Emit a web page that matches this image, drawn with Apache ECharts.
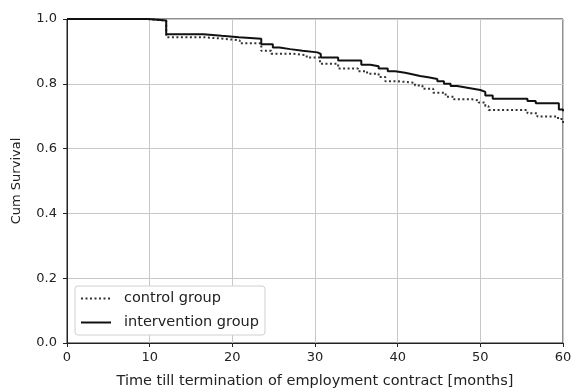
<!DOCTYPE html>
<html><head><meta charset="utf-8">
<script src="https://cdn.jsdelivr.net/npm/echarts@6/dist/echarts.min.js"></script>
<style>html,body{margin:0;padding:0;background:#fff}#c{width:577px;height:388px}</style>
</head><body><div id="c"></div>
<script>
const interventionTime = [0, 9.8, 12, 16.5, 18.7, 20.8, 23.5, 24.9, 25.7, 27, 28.5, 30.3, 30.7, 32.8, 35.6, 36.7, 37.7, 38.8, 39.7, 40.9, 41.9, 42.7, 43.7, 44.8, 45.6, 46.4, 47.2, 48.6, 50, 50.6, 51.5, 55.7, 56.7, 59.5, 60];
const interventionSurv = [1.0, 0.995, 0.953, 0.948, 0.944, 0.939, 0.922, 0.912, 0.907, 0.902, 0.897, 0.892, 0.881, 0.872, 0.859, 0.854, 0.847, 0.839, 0.834, 0.829, 0.824, 0.82, 0.815, 0.808, 0.80, 0.793, 0.787, 0.781, 0.775, 0.764, 0.754, 0.747, 0.74, 0.721, 0.715];
const controlTime = [0, 9.8, 12, 16.4, 19, 20.9, 23.5, 24.7, 27.3, 29, 30.6, 32.8, 35.2, 36.3, 37.7, 38.5, 40, 42.1, 43, 44.3, 45.8, 46.8, 49, 49.8, 50.6, 51, 55.7, 56.9, 59.4, 60];
const controlSurv = [1.0, 0.995, 0.944, 0.939, 0.934, 0.925, 0.902, 0.893, 0.888, 0.881, 0.862, 0.847, 0.839, 0.831, 0.821, 0.808, 0.803, 0.795, 0.785, 0.772, 0.76, 0.752, 0.749, 0.742, 0.731, 0.719, 0.709, 0.699, 0.691, 0.675];
const xTicks = [0, 10, 20, 30, 40, 50, 60];
const yTicks = [0.0, 0.2, 0.4, 0.6, 0.8, 1.0];

const zip = (a, b) => a.map((v, i) => [v, b[i]]);
const font = 'DejaVu Sans';
const txt = '#222';
const chart = echarts.init(document.getElementById('c'), null, {renderer: 'canvas'});
chart.setOption({
  animation: false,
  backgroundColor: '#fff',
  textStyle: {fontFamily: font},
  grid: {left: 67, right: 14, top: 19, bottom: 45, show: true, borderColor: '#222', borderWidth: 1,
         containLabel: false, outerBoundsMode: 'none'},
  legend: {
    orient: 'vertical', left: 75, top: 286,
    itemWidth: 30, itemHeight: 12, itemGap: 9,
    padding: [5, 6, 5, 5],
    borderColor: '#d0d0d0', borderWidth: 1, borderRadius: 3, backgroundColor: '#fff',
    itemStyle: {opacity: 0},
    textStyle: {fontFamily: font, fontSize: 14.5, color: txt, padding: [0, 0, 0, 8]},
    data: [{name: 'control group'}, {name: 'intervention group'}]
  },
  xAxis: {
    type: 'value', min: xTicks[0], max: xTicks[xTicks.length - 1], interval: 10,
    name: 'Time till termination of employment contract [months]',
    nameLocation: 'middle', nameGap: 31,
    nameTextStyle: {fontFamily: font, fontSize: 14.5, color: txt},
    axisLine: {show: true, lineStyle: {color: '#222'}},
    axisTick: {show: true, length: 4, lineStyle: {color: '#222'}},
    axisLabel: {fontFamily: font, fontSize: 13, color: txt, margin: 8},
    splitLine: {show: true, lineStyle: {color: '#c8c8c8', width: 1}}
  },
  yAxis: {
    type: 'value', min: yTicks[0], max: yTicks[yTicks.length - 1], interval: 0.2,
    name: 'Cum Survival', nameLocation: 'middle', nameGap: 44,
    nameTextStyle: {fontFamily: font, fontSize: 13, color: txt},
    axisLine: {show: true, lineStyle: {color: '#222'}},
    axisTick: {show: true, length: 4, lineStyle: {color: '#222'}},
    axisLabel: {fontFamily: font, fontSize: 13, color: txt, margin: 10, formatter: v => v.toFixed(1)},
    splitLine: {show: true, lineStyle: {color: '#c8c8c8', width: 1}}
  },
  series: [
    {name: 'control group', type: 'line', step: 'end', symbol: 'none',
     data: zip(controlTime, controlSurv),
     lineStyle: {color: '#333', width: 2, type: [2, 2.5]}, itemStyle: {color: '#333'}},
    {name: 'intervention group', type: 'line', step: 'end', symbol: 'none',
     data: zip(interventionTime, interventionSurv),
     lineStyle: {color: '#111', width: 2, type: 'solid'}, itemStyle: {color: '#111'}}
  ]
});
</script></body></html>
